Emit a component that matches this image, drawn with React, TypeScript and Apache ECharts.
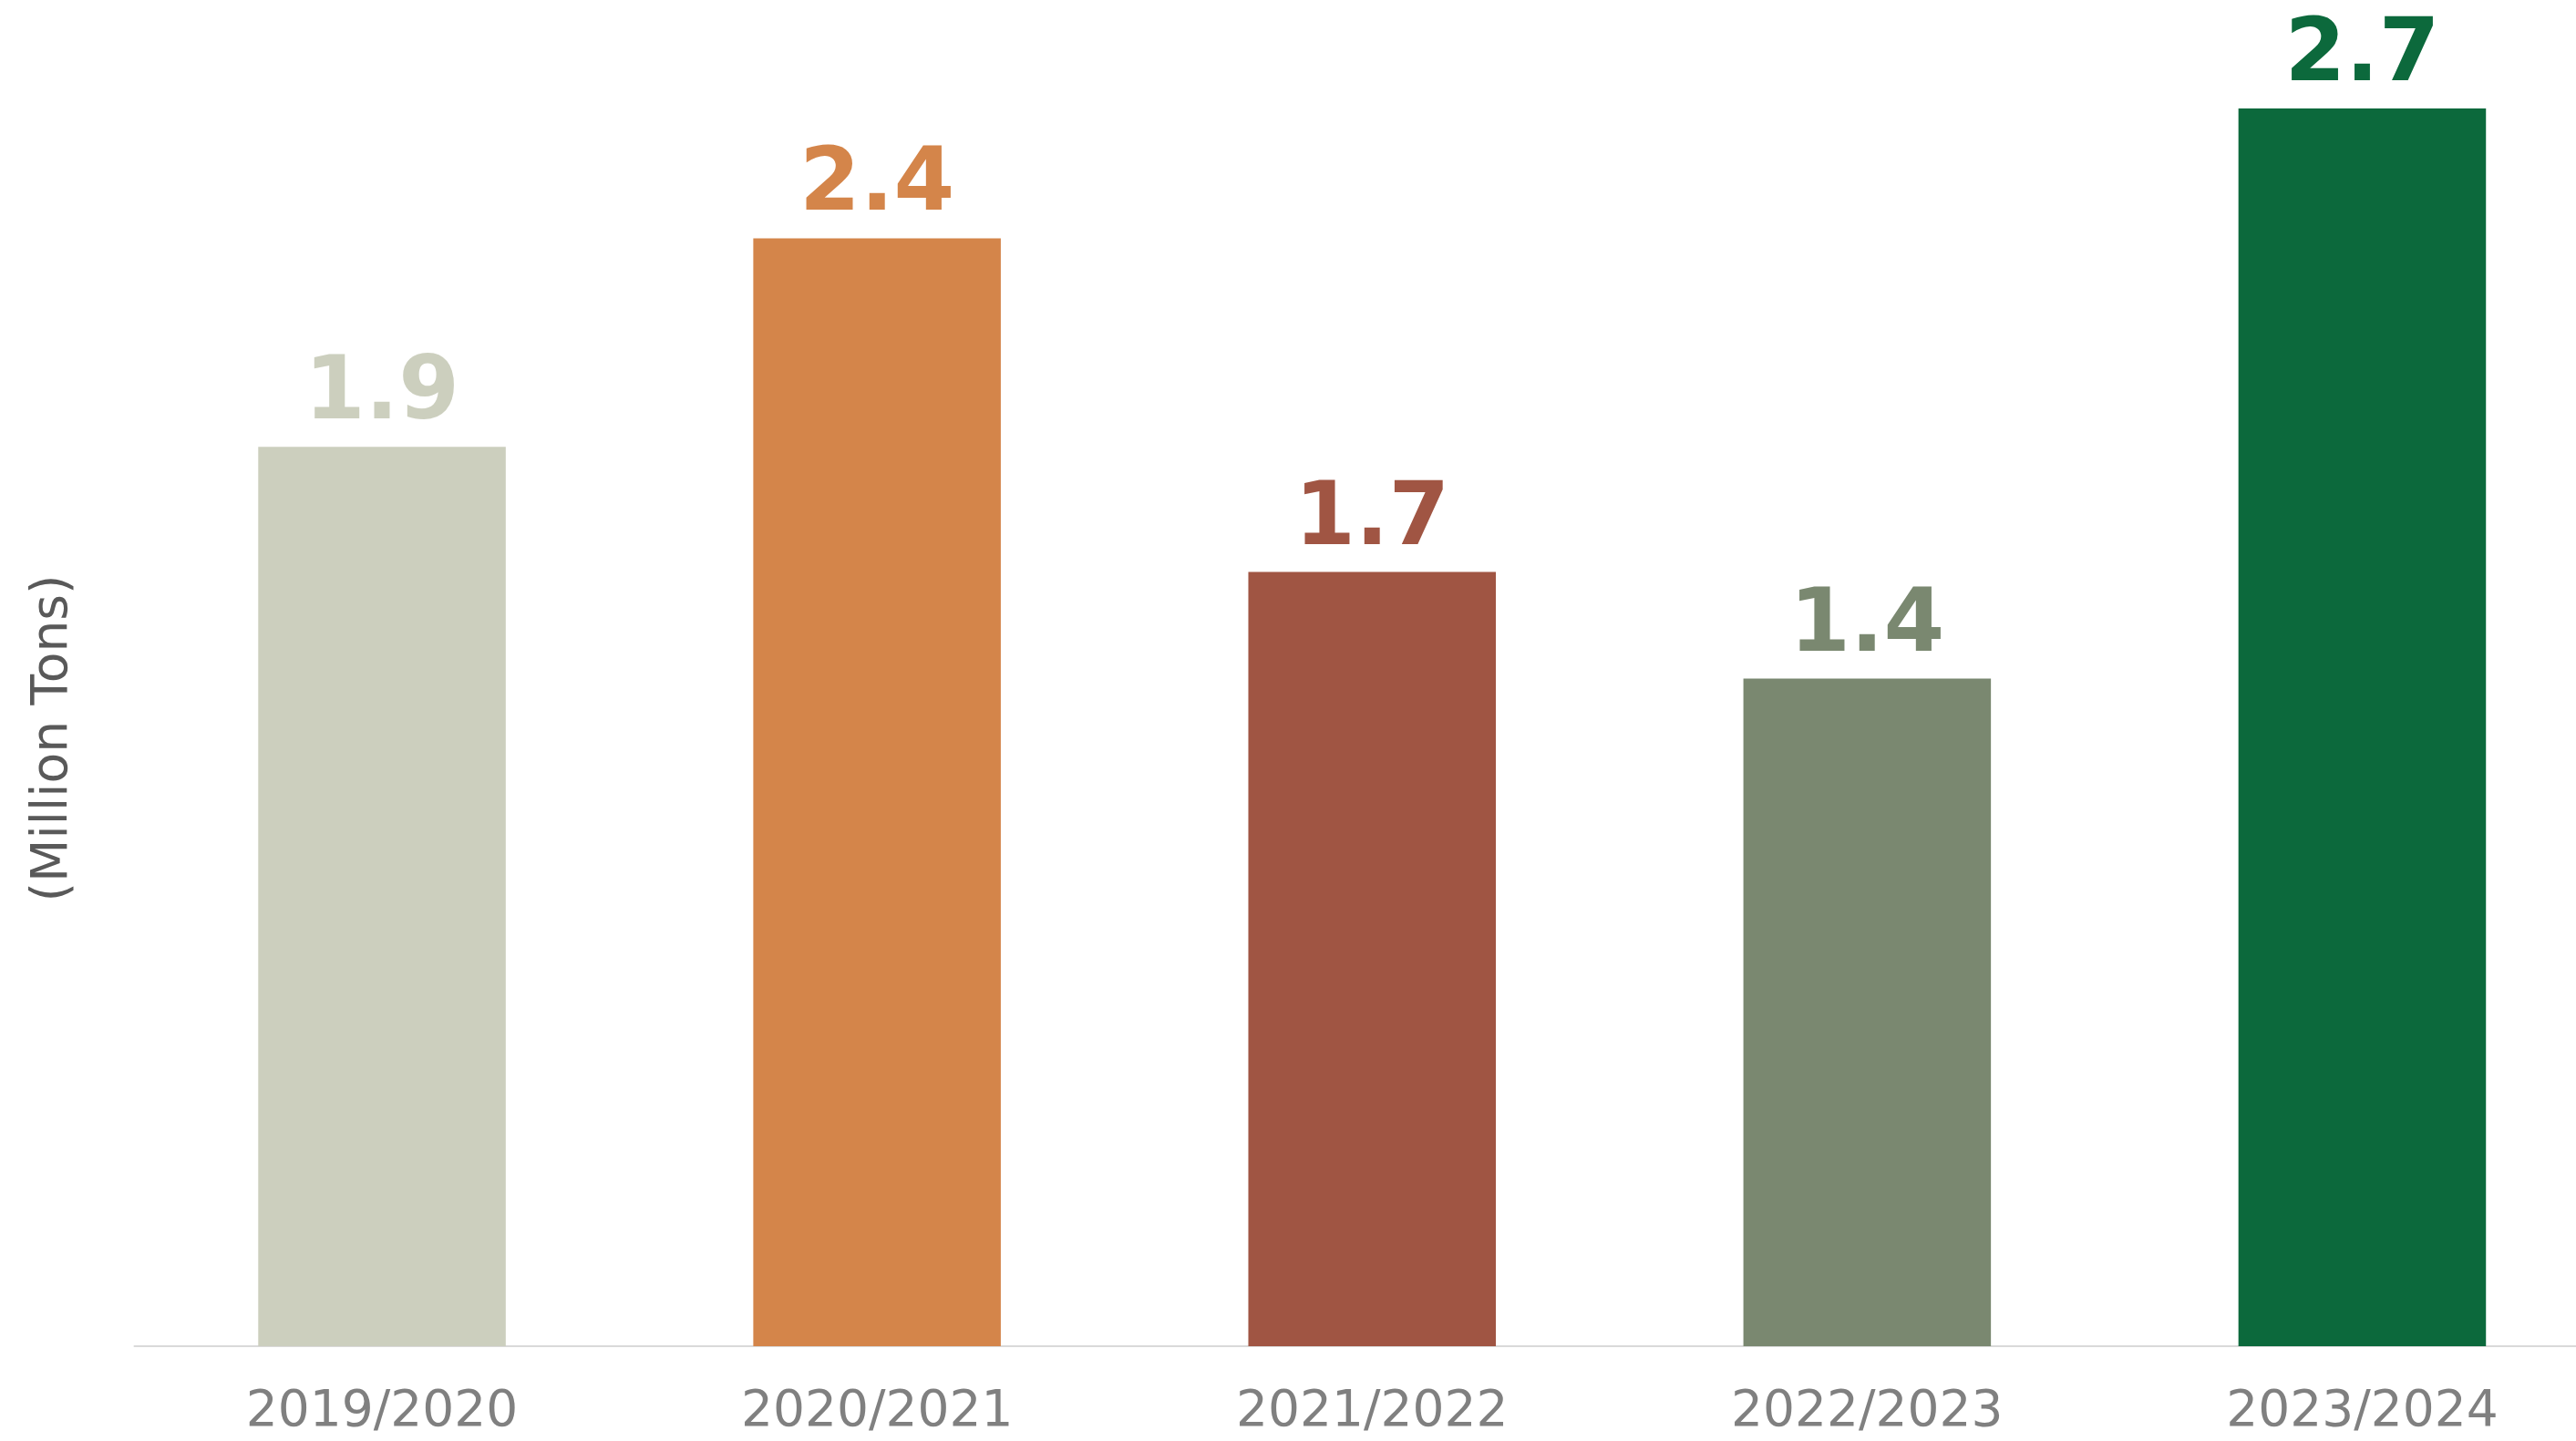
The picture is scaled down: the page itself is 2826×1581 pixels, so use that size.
import React, { useEffect, useRef } from "react";
import * as echarts from "echarts";

const categories = ["2019/2020", "2020/2021", "2021/2022", "2022/2023", "2023/2024"];
const values = [1.94, 2.39, 1.67, 1.44, 2.67];
const colors = ["#CCCFBE", "#D4854A", "#A05543", "#7A8870", "#0C693C"];
const yAxisTitle = "(Million Tons)";

export default function App() {
  const ref = useRef<HTMLDivElement>(null);
  useEffect(() => {
    if (!ref.current) return;
    const chart = echarts.init(ref.current, null, { renderer: "svg" });
    chart.setOption({
      animation: false,
      backgroundColor: "#ffffff",
      grid: { left: 147.5, right: 0, top: 119, bottom: 104, containLabel: false },
      xAxis: {
        type: "category",
        data: categories,
        axisLine: { show: true, lineStyle: { color: "#D9D9D9", width: 2 } },
        axisTick: { show: false },
        axisLabel: {
          color: "#808080",
          fontFamily: "DejaVu Sans",
          fontSize: 55,
          margin: 40,
        },
      },
      yAxis: {
        type: "value",
        min: 0,
        max: "dataMax",
        show: false,
        splitLine: { show: false },
      },
      graphic: [
        {
          type: "text",
          x: 54,
          y: 810,
          rotation: Math.PI / 2,
          style: {
            text: yAxisTitle,
            fill: "#595959",
            font: "55px 'DejaVu Sans'",
            align: "center",
            verticalAlign: "middle",
          },
        },
      ],
      series: [
        {
          type: "bar",
          barWidth: "50%",
          data: values.map((v, i) => ({
            value: v,
            itemStyle: { color: colors[i] },
            label: { color: colors[i] },
          })),
          label: {
            show: true,
            position: "top",
            distance: 16,
            fontFamily: "DejaVu Sans",
            fontWeight: "bold",
            fontSize: 96,
            formatter: (p: any) => Number(p.value).toFixed(1),
          },
        },
      ],
    });
    return () => chart.dispose();
  }, []);
  return (
    <div
      style={{ position: "fixed", left: 0, top: 0, width: 2826, height: 1581, overflow: "hidden", background: "#fff" }}
    >
      <div ref={ref} style={{ width: 2863, height: 1581 }} />
    </div>
  );
}
